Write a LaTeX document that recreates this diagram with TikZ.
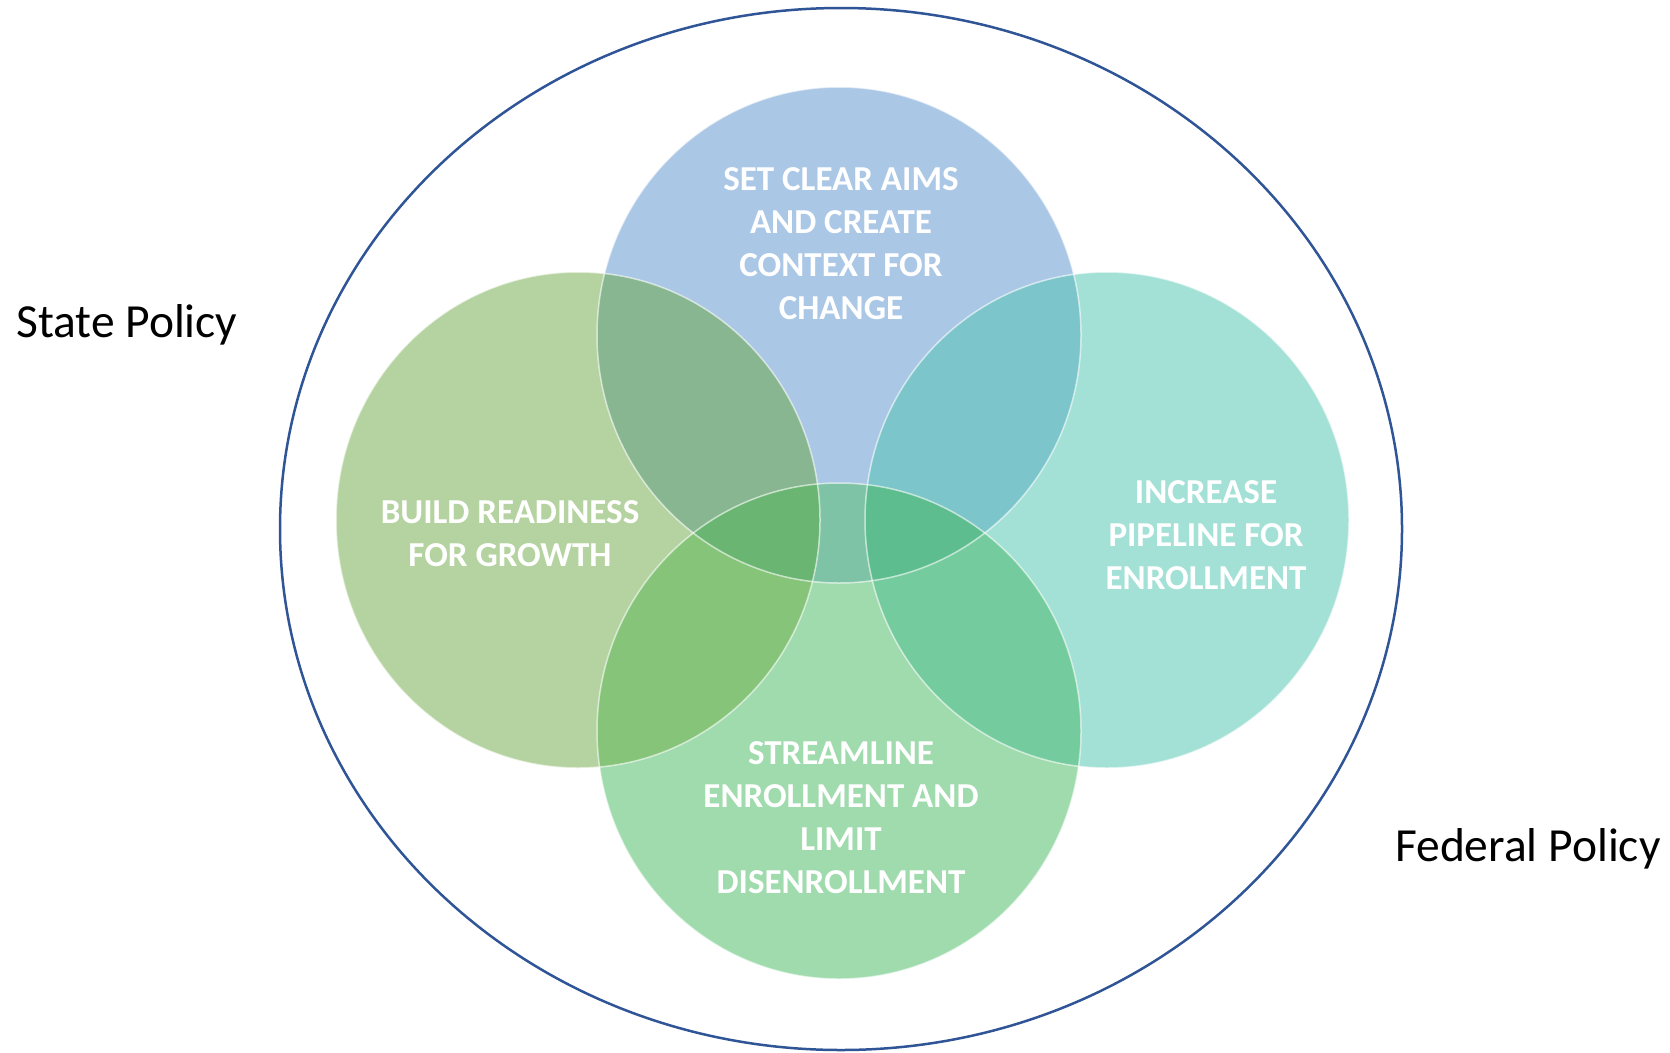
\documentclass[tikz,border=0pt]{standalone}
\usepackage{fontspec}
\setmainfont{Carlito}

\definecolor{aimsblue}{HTML}{ABC7E6}
\definecolor{readygreen}{HTML}{B5D3A0}
\definecolor{pipeteal}{HTML}{A3E1D6}
\definecolor{streamgreen}{HTML}{A0DBAE}
\definecolor{aimsready}{HTML}{87B690}
\definecolor{aimspipe}{HTML}{7CC6CB}
\definecolor{readystream}{HTML}{86C47A}
\definecolor{pipestream}{HTML}{74CB9E}
\definecolor{aimsstream}{HTML}{7EC3A6}
\definecolor{aimsreadystream}{HTML}{6AB572}
\definecolor{aimspipestream}{HTML}{5EBD8E}
\definecolor{policyblue}{HTML}{2F5597}

\begin{document}
\begin{tikzpicture}[x=1pt,y=-1pt,
        venn label/.style={text=white,font=\fontsize{35}{43}\selectfont\bfseries,align=center,inner sep=0pt},
        policy label/.style={font=\fontsize{47.5}{56}\selectfont,inner sep=0pt},
        rim/.style={draw=white,draw opacity=0.6,line width=1.5pt}]

        \useasboundingbox (0,0) rectangle (1670,1052);

        % Define circle centres
        \coordinate (aims) at (839,335);
        \coordinate (ready) at (578,520);
        \coordinate (pipe) at (1107,520);
        \coordinate (stream) at (839,731);

        % Outer policy ring
        \draw[policyblue,line width=2.5pt] (841,529) ellipse [x radius=561, y radius=521];

        % Plain circles
        \fill[aimsblue] (aims) ellipse [x radius=242, y radius=248];
        \fill[readygreen] (ready) ellipse [x radius=242, y radius=248];
        \fill[pipeteal] (pipe) ellipse [x radius=242, y radius=248];
        \fill[streamgreen] (stream) ellipse [x radius=242, y radius=248];

        % Overlaps
        \begin{scope}
            \clip (aims) ellipse [x radius=242, y radius=248];
            \fill[aimsready] (ready) ellipse [x radius=242, y radius=248];
            \fill[aimspipe] (pipe) ellipse [x radius=242, y radius=248];
            \fill[aimsstream] (stream) ellipse [x radius=242, y radius=248];
        \end{scope}
        \begin{scope}
            \clip (stream) ellipse [x radius=242, y radius=248];
            \fill[readystream] (ready) ellipse [x radius=242, y radius=248];
            \fill[pipestream] (pipe) ellipse [x radius=242, y radius=248];
            \clip (aims) ellipse [x radius=242, y radius=248];
            \fill[aimsreadystream] (ready) ellipse [x radius=242, y radius=248];
            \fill[aimspipestream] (pipe) ellipse [x radius=242, y radius=248];
        \end{scope}

        % Faint rims
        \draw[rim] (aims) ellipse [x radius=242, y radius=248];
        \draw[rim] (ready) ellipse [x radius=242, y radius=248];
        \draw[rim] (pipe) ellipse [x radius=242, y radius=248];
        \draw[rim] (stream) ellipse [x radius=242, y radius=248];

        % Labels
        \node[venn label] (aimstext) at (841,244) {SET CLEAR AIMS\\AND CREATE\\CONTEXT FOR\\CHANGE};
        \node[venn label] (readytext) at (510,534) {BUILD READINESS\\FOR GROWTH};
        \node[venn label] (pipetext) at (1206,535) {INCREASE\\PIPELINE FOR\\ENROLLMENT};
        \node[venn label] (streamtext) at (841,818) {STREAMLINE\\ENROLLMENT AND\\LIMIT\\DISENROLLMENT};

        \node[policy label,anchor=base west] (state) at (16,337) {State Policy};
        \node[policy label,anchor=base west] (federal) at (1395,861) {Federal Policy};

\end{tikzpicture}
\end{document}
